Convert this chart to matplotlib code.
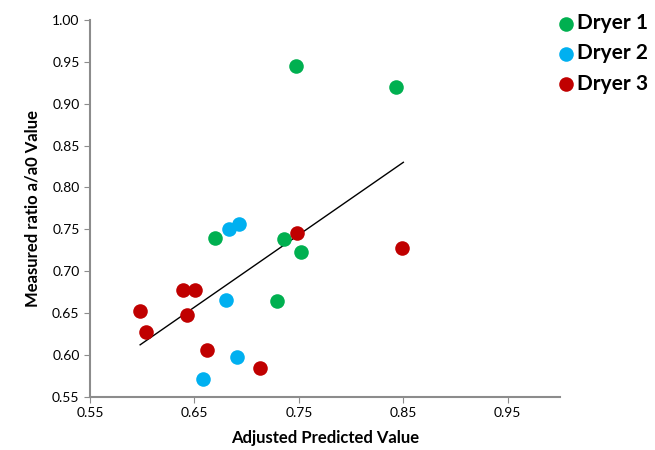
import matplotlib
matplotlib.use("Agg")
import matplotlib.pyplot as plt

# --- data ---
dryer1_x = [0.747, 0.843, 0.670, 0.736, 0.752, 0.729]
dryer1_y = [0.945, 0.920, 0.739, 0.738, 0.723, 0.664]
dryer2_x = [0.683, 0.693, 0.680, 0.691, 0.658]
dryer2_y = [0.750, 0.756, 0.665, 0.598, 0.571]
dryer3_x = [0.748, 0.849, 0.639, 0.651, 0.598, 0.643, 0.604, 0.662, 0.713]
dryer3_y = [0.746, 0.728, 0.677, 0.677, 0.652, 0.648, 0.627, 0.606, 0.584]
fit_x = [0.598, 0.850]
fit_y = [0.612, 0.830]

x_ticks = [0.55, 0.65, 0.75, 0.85, 0.95]
y_ticks = [0.55, 0.60, 0.65, 0.70, 0.75, 0.80, 0.85, 0.90, 0.95, 1.00]

plt.rcParams['font.family'] = ['Lato', 'DejaVu Sans']

fig = plt.figure(figsize=(6.55, 4.5), dpi=100)
ax = fig.add_axes([0.1374, 0.1184, 0.7176, 0.8372])

ax.plot(fit_x, fit_y, color='black', lw=1.0, zorder=2)
ax.scatter(dryer1_x, dryer1_y, s=110, color='#00B050', label='Dryer 1', zorder=3, linewidths=0)
ax.scatter(dryer2_x, dryer2_y, s=110, color='#00B0F0', label='Dryer 2', zorder=3, linewidths=0)
ax.scatter(dryer3_x, dryer3_y, s=110, color='#C00000', label='Dryer 3', zorder=3, linewidths=0)

ax.set_xlim(0.55, 1.0)
ax.set_ylim(0.55, 1.0)
ax.set_xticks(x_ticks)
ax.set_yticks(y_ticks)
ax.set_xticklabels([f"{v:.2f}" for v in x_ticks])
ax.set_yticklabels([f"{v:.2f}" for v in y_ticks])
ax.tick_params(direction='out', length=4, color='#8c8c8c', labelsize=10)

for side in ['top', 'right']:
    ax.spines[side].set_visible(False)
for side in ['left', 'bottom']:
    ax.spines[side].set_color('#8c8c8c')
    ax.spines[side].set_linewidth(1.5)

ax.set_xlabel('Adjusted Predicted Value', fontsize=12, fontweight='bold', labelpad=8)
ax.set_ylabel('Measured ratio a/a0 Value', fontsize=12, fontweight='bold', labelpad=8)

# 凡例はプロット領域の右外側に配置
handles, labels = ax.get_legend_handles_labels()
fig.legend(handles, labels, loc='upper left', bbox_to_anchor=(0.851, 0.971),
           frameon=False, prop={'size': 15, 'weight': 'bold'},
           borderpad=0, borderaxespad=0, handlelength=0.8, handletextpad=0.15,
           labelspacing=0.5)

fig.savefig('out.png', dpi=100)
